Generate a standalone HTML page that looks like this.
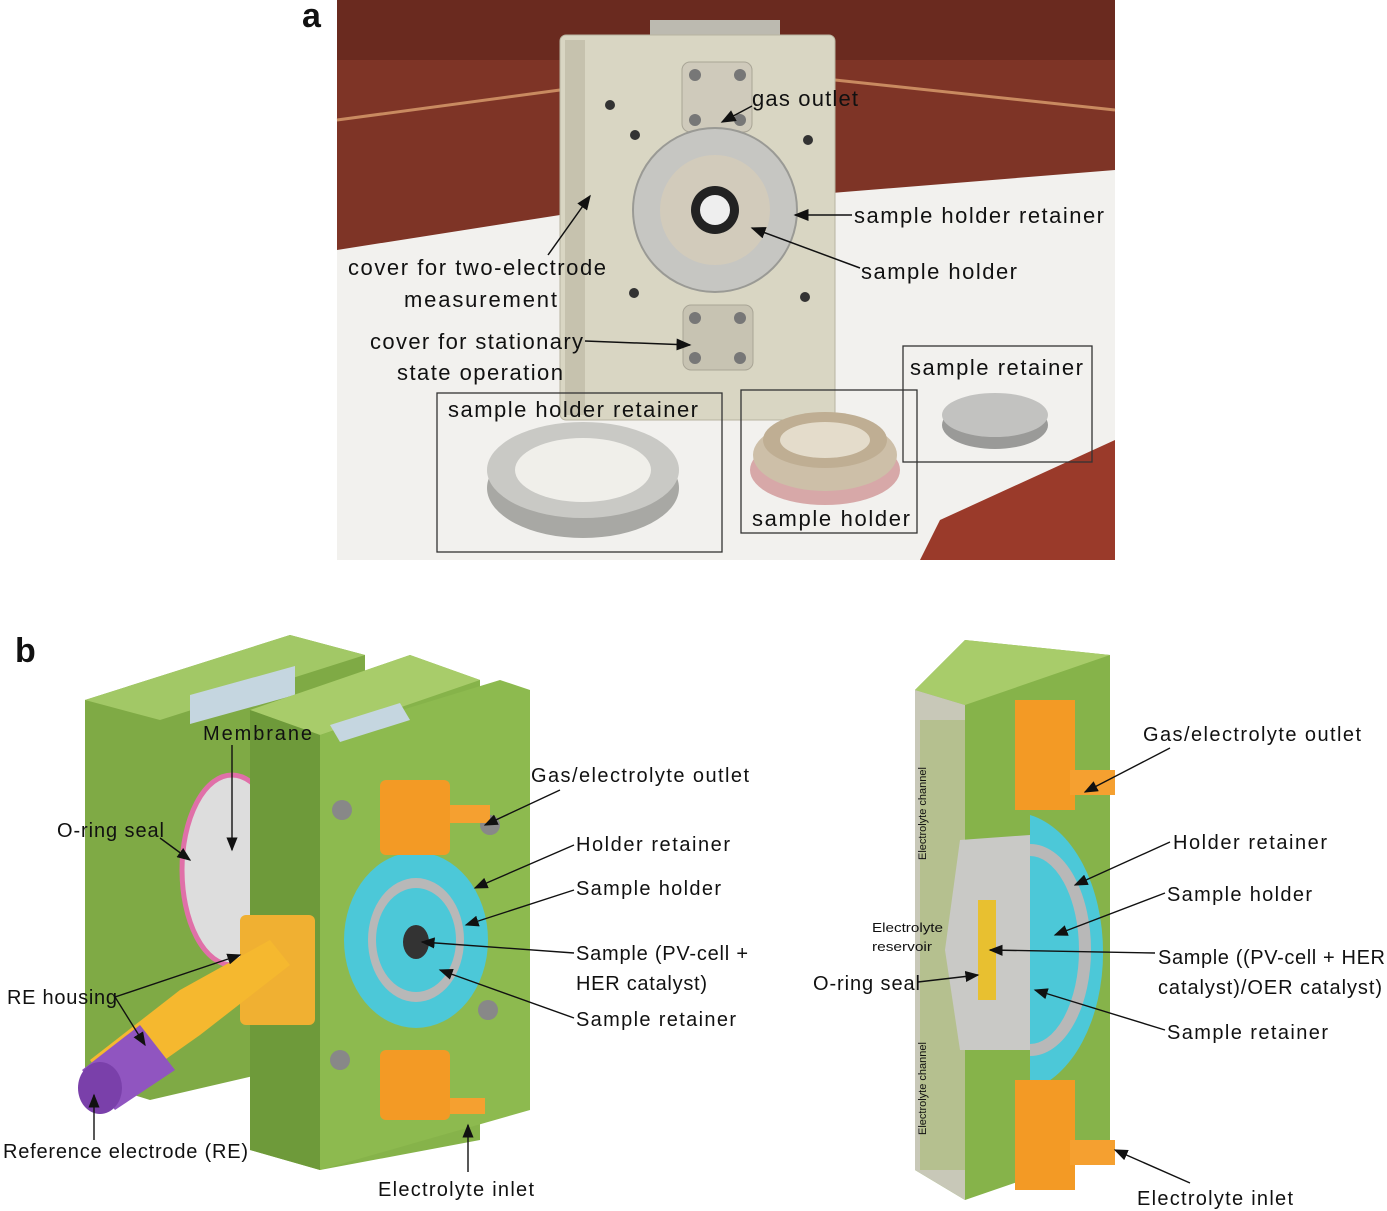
<!DOCTYPE html>
<html><head><meta charset="utf-8"><style>
html,body{margin:0;padding:0;background:#fff;}
svg{display:block;}
text{font-family:"Liberation Sans","DejaVu Sans",sans-serif;fill:#111;}
</style></head><body>
<svg width="1387" height="1211" viewBox="0 0 1387 1211" xmlns="http://www.w3.org/2000/svg">
<defs>
<marker id="ar" markerWidth="10" markerHeight="8" refX="9" refY="4" orient="auto"><path d="M0,0 L10,4 L0,8 z" fill="#111"/></marker>
</defs>
<!-- PANEL A photo -->
<rect x="337" y="0" width="778" height="560" fill="#7e3426"/>
<path d="M337,0 L1115,0 L1115,60 L337,60z" fill="#6a2a1f"/>
<polygon points="337,250 560,215 1115,170 1115,470 990,560 337,560" fill="#f2f1ee"/>
<polygon points="940,520 1115,440 1115,560 920,560" fill="#9a3a2a"/>
<line x1="337" y1="120" x2="560" y2="90" stroke="#c98a60" stroke-width="3"/>
<line x1="835" y1="80" x2="1115" y2="110" stroke="#c98a60" stroke-width="3"/>
<!-- device -->
<rect x="650" y="20" width="130" height="30" fill="#bcbab0"/>
<rect x="560" y="35" width="275" height="385" rx="6" fill="#d9d6c3" stroke="#b8b4a0"/>
<rect x="565" y="40" width="20" height="375" fill="#c6c2ae"/>
<rect x="682" y="62" width="70" height="70" rx="8" fill="#cfcabb" stroke="#a9a596"/>
<g fill="#777"><circle cx="695" cy="75" r="6"/><circle cx="740" cy="75" r="6"/><circle cx="695" cy="120" r="6"/><circle cx="740" cy="120" r="6"/></g>
<rect x="683" y="305" width="70" height="65" rx="8" fill="#c7c3b2" stroke="#a9a596"/>
<g fill="#777"><circle cx="695" cy="318" r="6"/><circle cx="740" cy="318" r="6"/><circle cx="695" cy="358" r="6"/><circle cx="740" cy="358" r="6"/></g>
<circle cx="715" cy="210" r="82" fill="#c6c6c2" stroke="#9a9a95" stroke-width="2"/>
<circle cx="715" cy="210" r="55" fill="#d2cbbb"/>
<circle cx="715" cy="210" r="24" fill="#222"/>
<circle cx="715" cy="210" r="15" fill="#eee"/>
<g fill="#333"><circle cx="635" cy="135" r="5"/><circle cx="808" cy="140" r="5"/><circle cx="634" cy="293" r="5"/><circle cx="805" cy="297" r="5"/><circle cx="610" cy="105" r="5"/></g>
<!-- loose parts -->
<ellipse cx="583" cy="488" rx="96" ry="50" fill="#a8a8a4"/>
<ellipse cx="583" cy="470" rx="96" ry="48" fill="#c9c9c5"/>
<ellipse cx="583" cy="470" rx="68" ry="32" fill="#f0efea"/>
<ellipse cx="825" cy="470" rx="75" ry="35" fill="#d7a8a8"/>
<ellipse cx="825" cy="455" rx="72" ry="36" fill="#cdbfa8"/>
<ellipse cx="825" cy="440" rx="62" ry="28" fill="#bfae93"/>
<ellipse cx="825" cy="440" rx="45" ry="18" fill="#e4dccb"/>
<ellipse cx="995" cy="425" rx="53" ry="24" fill="#9a9a98"/>
<ellipse cx="995" cy="415" rx="53" ry="22" fill="#c2c2c0"/>
<!-- boxes -->
<g fill="none" stroke="#333" stroke-width="1.3">
<rect x="437" y="393" width="285" height="159"/>
<rect x="741" y="390" width="176" height="143"/>
<rect x="903" y="346" width="189" height="116"/>
</g>
<g font-size="22" lengthAdjust="spacingAndGlyphs">
<text x="752" y="106" textLength="106">gas outlet</text>
<text x="854" y="223" textLength="250">sample holder retainer</text>
<text x="861" y="279" textLength="156">sample holder</text>
<text x="348" y="275" textLength="258">cover for two-electrode</text>
<text x="404" y="307" textLength="153">measurement</text>
<text x="370" y="349" textLength="213">cover for stationary</text>
<text x="397" y="380" textLength="166">state operation</text>
<text x="448" y="417" textLength="250">sample holder retainer</text>
<text x="752" y="526" textLength="158">sample holder</text>
<text x="910" y="375" textLength="173">sample retainer</text>
</g>
<g stroke="#111" stroke-width="1.5" fill="none" marker-end="url(#ar)">
<line x1="752" y1="106" x2="722" y2="122"/>
<line x1="852" y1="215" x2="795" y2="215"/>
<line x1="860" y1="268" x2="752" y2="228"/>
<line x1="548" y1="255" x2="590" y2="196"/>
<line x1="585" y1="341" x2="690" y2="345"/>
</g>
<text x="302" y="27" font-size="34" font-weight="bold">a</text>
<text x="15" y="662" font-size="34" font-weight="bold">b</text>

<!-- PANEL B left -->
<polygon points="85,700 290,635 365,655 365,1050 150,1100 85,1080" fill="#7faa45"/>
<polygon points="85,700 290,635 365,655 160,720" fill="#a2c866"/>
<polygon points="190,695 295,666 295,695 190,724" fill="#c5d6e0"/>
<ellipse cx="232" cy="870" rx="50" ry="95" fill="#ddd" stroke="#e070a8" stroke-width="5"/>
<polygon points="250,710 410,655 480,680 480,1140 320,1170 250,1150" fill="#86b34a"/>
<polygon points="250,710 410,655 480,680 320,735" fill="#a8cc6a"/>
<polygon points="250,710 320,735 320,1170 250,1150" fill="#6e9a3a"/>
<polygon points="320,735 500,680 530,690 530,1110 320,1170" fill="#8dba4f"/>
<polygon points="330,725 400,703 410,720 340,742" fill="#c5d6e0"/>
<g fill="#888"><circle cx="342" cy="810" r="10"/><circle cx="490" cy="825" r="10"/><circle cx="340" cy="1060" r="10"/><circle cx="488" cy="1010" r="10"/></g>
<ellipse cx="416" cy="940" rx="72" ry="88" fill="#4cc8d8"/>
<ellipse cx="416" cy="940" rx="48" ry="62" fill="#b8b8b8"/>
<ellipse cx="416" cy="940" rx="40" ry="52" fill="#4cc8d8"/>
<ellipse cx="416" cy="942" rx="13" ry="17" fill="#333"/>
<rect x="380" y="780" width="70" height="75" rx="6" fill="#f39a25"/>
<rect x="380" y="1050" width="70" height="70" rx="6" fill="#f39a25"/>
<rect x="450" y="805" width="40" height="18" fill="#f5a030"/>
<rect x="450" y="1098" width="35" height="16" fill="#f5a030"/>
<rect x="240" y="915" width="75" height="110" rx="6" fill="#f0b032"/>
<polygon points="90,1060 180,990 270,940 290,965 200,1035 115,1095" fill="#f5b82f"/>
<polygon points="82,1070 140,1025 175,1070 115,1110" fill="#9055c0"/>
<ellipse cx="100" cy="1088" rx="22" ry="26" fill="#7a40aa"/>
<g font-size="20" lengthAdjust="spacingAndGlyphs">
<text x="203" y="740" textLength="109">Membrane</text>
<text x="57" y="837" textLength="107">O-ring seal</text>
<text x="7" y="1004" textLength="110">RE housing</text>
<text x="3" y="1158" textLength="245">Reference electrode (RE)</text>
<text x="531" y="782" textLength="218">Gas/electrolyte outlet</text>
<text x="576" y="851" textLength="154">Holder retainer</text>
<text x="576" y="895" textLength="145">Sample holder</text>
<text x="576" y="960" textLength="172">Sample (PV-cell +</text>
<text x="576" y="990" textLength="131">HER catalyst)</text>
<text x="576" y="1026" textLength="160">Sample retainer</text>
<text x="378" y="1196" textLength="156">Electrolyte inlet</text>
</g>
<g stroke="#111" stroke-width="1.4" fill="none" marker-end="url(#ar)">
<line x1="232" y1="745" x2="232" y2="850"/>
<line x1="160" y1="838" x2="190" y2="860"/>
<line x1="115" y1="997" x2="240" y2="955"/>
<line x1="115" y1="997" x2="145" y2="1045"/>
<line x1="94" y1="1140" x2="94" y2="1095"/>
<line x1="560" y1="790" x2="485" y2="825"/>
<line x1="574" y1="845" x2="475" y2="888"/>
<line x1="574" y1="890" x2="466" y2="925"/>
<line x1="574" y1="953" x2="422" y2="942"/>
<line x1="574" y1="1018" x2="440" y2="970"/>
<line x1="468" y1="1172" x2="468" y2="1125"/>
</g>

<!-- PANEL B right -->
<polygon points="915,690 965,640 1110,655 1110,1150 965,1200 915,1170" fill="#86b34a"/>
<polygon points="915,690 965,640 1110,655 965,705" fill="#a8cc6a"/>
<polygon points="915,690 965,705 965,1200 915,1170" fill="#c8c8b8"/>
<rect x="920" y="720" width="45" height="450" fill="#b5c08f"/>
<polygon points="960,840 1030,835 1030,1050 960,1050 945,950" fill="#c9c9c6"/>
<path d="M1030,815 A90,140 0 0 1 1030,1090 z" fill="#4cc8d8"/>
<path d="M1030,850 A55,100 0 0 1 1030,1050" fill="none" stroke="#b8b8b8" stroke-width="12"/>
<rect x="978" y="900" width="18" height="100" fill="#e8c030"/>
<rect x="1015" y="700" width="60" height="110" fill="#f39a25"/>
<rect x="1015" y="1080" width="60" height="110" fill="#f39a25"/>
<rect x="1070" y="770" width="45" height="25" fill="#f5a030"/>
<rect x="1070" y="1140" width="45" height="25" fill="#f5a030"/>
<g font-size="20" lengthAdjust="spacingAndGlyphs">
<text x="1143" y="741" textLength="218">Gas/electrolyte outlet</text>
<text x="1173" y="849" textLength="154">Holder retainer</text>
<text x="1167" y="901" textLength="145">Sample holder</text>
<text x="1158" y="964" textLength="227">Sample ((PV-cell + HER</text>
<text x="1158" y="994" textLength="224">catalyst)/OER catalyst)</text>
<text x="1167" y="1039" textLength="161">Sample retainer</text>
<text x="813" y="990" textLength="107">O-ring seal</text>
<text x="1137" y="1205" textLength="156">Electrolyte inlet</text>
</g>
<text x="872" y="932" font-size="13" textLength="71" lengthAdjust="spacingAndGlyphs">Electrolyte</text>
<text x="872" y="951" font-size="13" textLength="60" lengthAdjust="spacingAndGlyphs">reservoir</text>
<text font-size="11" transform="translate(926,860) rotate(-90)">Electrolyte channel</text>
<text font-size="11" transform="translate(926,1135) rotate(-90)">Electrolyte channel</text>
<g stroke="#111" stroke-width="1.4" fill="none" marker-end="url(#ar)">
<line x1="1170" y1="748" x2="1085" y2="792"/>
<line x1="1170" y1="842" x2="1075" y2="885"/>
<line x1="1165" y1="893" x2="1055" y2="935"/>
<line x1="1155" y1="953" x2="990" y2="950"/>
<line x1="1165" y1="1030" x2="1035" y2="990"/>
<line x1="918" y1="982" x2="978" y2="975"/>
<line x1="1190" y1="1183" x2="1115" y2="1150"/>
</g>
</svg>
</body></html>
